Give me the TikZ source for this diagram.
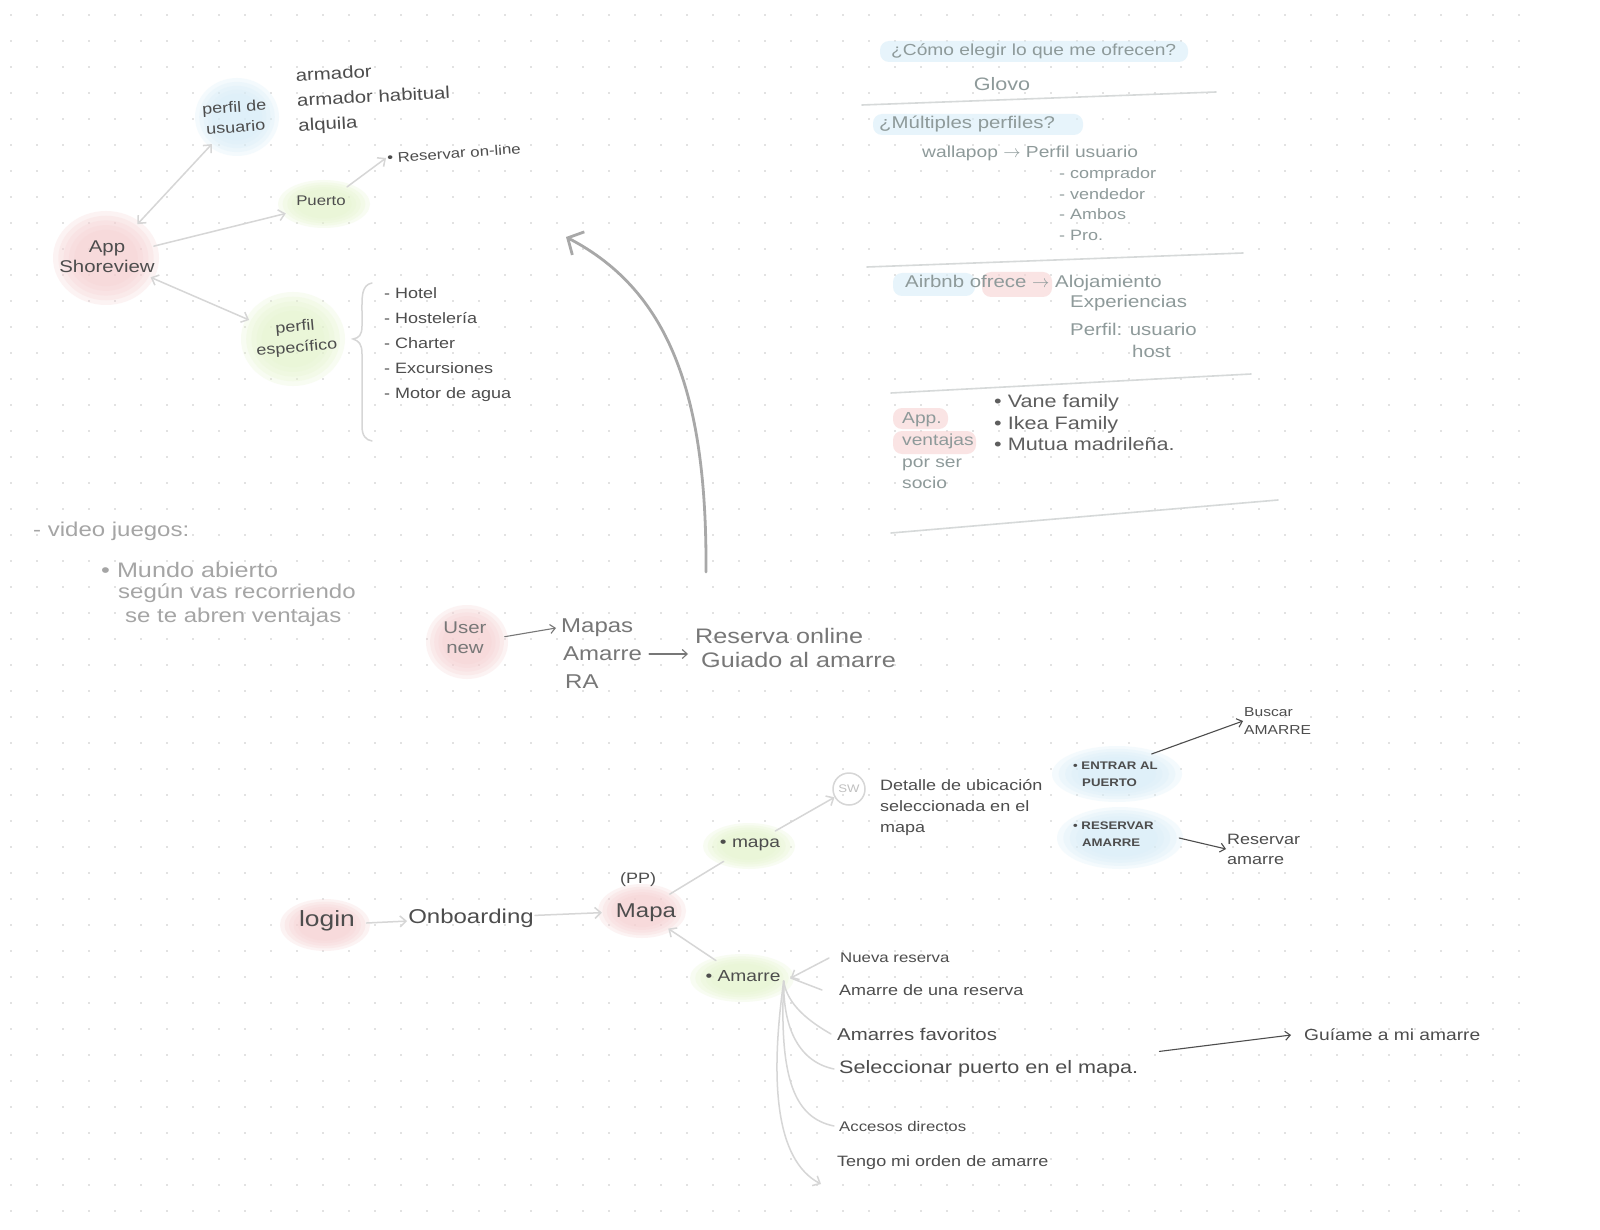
\documentclass[tikz,border=0pt]{standalone}
\usepackage{fontspec}
\setmainfont{Liberation Sans}[FakeStretch=1.2]
\usetikzlibrary{arrows.meta,shapes.geometric}
\definecolor{ink}{HTML}{4D4D4D}
\definecolor{inkb}{HTML}{5E5E5E}
\definecolor{midg}{HTML}{777777}
\definecolor{soft}{HTML}{8E9A9A}
\definecolor{faint}{HTML}{A5A5A5}
\definecolor{pinkc}{HTML}{F7D2D3}
\definecolor{bluec}{HTML}{D8EEF9}
\definecolor{greenc}{HTML}{E6F5CE}
\definecolor{linec}{HTML}{D6D6D6}
\definecolor{dotc}{HTML}{C6C6C6}
\definecolor{bigarr}{HTML}{A8A8A8}
\definecolor{sepc}{HTML}{D6D9D9}
\pgfdeclarelayer{gridlayer}
\pgfdeclarelayer{bloblayer}
\pgfsetlayers{gridlayer,bloblayer,main}
\newcommand\fsz[2]{\fontsize{#1}{#2}\selectfont}
% soft blob: colour, x, y, x radius, y radius
\newcommand\softblob[5]{%
  \foreach \sbk in {1.0,0.9,0.8,0.7,0.6}{%
    \fill[#1,opacity=0.26] (#2,#3) ellipse [x radius=\sbk*#4pt, y radius=\sbk*#5pt];}}
\tikzset{
  txt/.style={inner sep=1pt, align=left, text=ink},
  blob/.style={ellipse, draw=none, inner sep=0pt},
  hilite/.style={fill=#1, opacity=0.6, rounded corners=9pt},
  conn/.style={draw=linec, line width=1.5pt, line cap=round},
  tipE/.style={-{Straight Barb[length=6pt,width=11pt]}},
  tipB/.style={{Straight Barb[length=6pt,width=11pt]}-{Straight Barb[length=6pt,width=11pt]}},
  darkarr/.style={draw=ink, line width=1.1pt, line cap=round, -{Straight Barb[length=5pt,width=9pt]}},
  softarr/.style={draw=midg, line width=1.1pt, line cap=round, -{Straight Barb[length=5pt,width=9pt]}},
  sepline/.style={draw=sepc, line width=1.6pt, line cap=round},
  bigarrow/.style={draw=bigarr, line width=2.8pt, line cap=round, -{Straight Barb[length=12pt,width=26pt]}},
}
\begin{document}
\begin{tikzpicture}[x=1pt,y=-1pt]
\useasboundingbox (0,0) rectangle (1600,1230);
\begin{pgfonlayer}{gridlayer}
  \fill[white] (0,0) rectangle (1600,1230);
  \foreach \i in {0,...,58}{\foreach \j in {0,...,46}{\fill[dotc] (11+26*\i,15+26*\j) circle[radius=0.9pt];}}
\end{pgfonlayer}

% anchoring shapes of the coloured blobs
\node[blob, minimum width=99pt, minimum height=87pt] (appb) at (106,258) {};
\node[blob, minimum width=77pt, minimum height=71pt] (usub) at (237,117) {};
\node[blob, minimum width=86pt, minimum height=40pt] (ptob) at (324,204) {};
\node[blob, minimum width=97pt, minimum height=87pt] (espb) at (293,339) {};
\node[blob, minimum width=76pt, minimum height=66pt] (usrb) at (467,642) {};
\node[blob, minimum width=83pt, minimum height=44pt] (lgb) at (325,925) {};
\node[blob, minimum width=80pt, minimum height=46pt] (mpb) at (642,911) {};
\node[blob, minimum width=84pt, minimum height=38pt] (m2b) at (749,846) {};
\node[blob, minimum width=97pt, minimum height=41pt] (amb) at (742,978) {};
\node[blob, minimum width=123pt, minimum height=48pt] (enb) at (1117,774) {};
\node[blob, minimum width=118pt, minimum height=54pt] (reb) at (1120,838) {};

\begin{pgfonlayer}{bloblayer}
  \softblob{pinkc}{106}{258}{53}{47}
  \softblob{bluec}{237}{117}{42}{39}
  \softblob{greenc}{324}{204}{46}{24}
  \softblob{greenc}{293}{339}{52}{47}
  \softblob{pinkc}{467}{642}{41}{37}
  \softblob{pinkc}{325}{925}{45}{26}
  \softblob{pinkc}{642}{911}{44}{27}
  \softblob{greenc}{749}{846}{46}{23}
  \softblob{greenc}{742}{978}{52}{24}
  \softblob{bluec}{1117}{774}{65}{28}
  \softblob{bluec}{1120}{838}{63}{31}
  % highlights right column
  \fill[hilite=bluec] (880,41) rectangle (1188,62);
  \fill[hilite=bluec] (873,114) rectangle (1083,135);
  \fill[hilite=bluec] (893,273) rectangle (975,296);
  \fill[hilite=pinkc] (982,272) rectangle (1052,297);
  \fill[hilite=pinkc] (893,408) rectangle (948,429);
  \fill[hilite=pinkc] (893,431) rectangle (976,454);
\end{pgfonlayer}

% ---------- top left cluster ----------
\node[txt, font=\fsz{17}{20}, align=center] (app) at (107,257) {App\\Shoreview};
\node[txt, font=\fsz{15}{20}, align=center, rotate=4] (usu) at (235,117) {perfil de\\usuario};
\node[txt, font=\fsz{17}{25}, anchor=west, rotate=3] (roles) at (296,102) {armador\\armador habitual\\alquila};
\node[txt, font=\fsz{14}{17}] (pto) at (321,201) {Puerto};
\node[txt, font=\fsz{14}{17}, anchor=west, rotate=4] (resv) at (386,158) {• Reservar on-line};
\node[txt, font=\fsz{15}{21}, align=center, rotate=5] (esp) at (296,338) {perfil\\específico};
\node[txt, font=\fsz{15}{25}, anchor=west] (tipos) at (383,345) {- Hotel\\- Hostelería\\- Charter\\- Excursiones\\- Motor de agua};

\draw[conn, tipB] (appb) -- (usub);
\draw[conn, tipE] (appb) -- (ptob);
\draw[conn, tipB] (appb) -- (espb);
\draw[conn, tipE] (ptob) -- (resv.west);
\draw[conn] (372,283) .. controls (361,285) and (362,298) .. (362,312) -- (362,326)
  .. controls (362,335) and (359,338) .. (353,339) .. controls (359,341) and (362,344) .. (362,354)
  -- (362,426) .. controls (362,436) and (366,440) .. (372,441);

% big arrow
\coordinate (bstart) at (706,572);
\coordinate (bend) at (566,237);
\draw[bigarrow] (bstart) .. controls (707,400) and (672,292) .. (bend);

% ---------- right column ----------
\node[txt, text=soft, font=\fsz{16}{19}, anchor=west] (q1) at (890,51) {¿Cómo elegir lo que me ofrecen?};
\node[txt, text=soft, font=\fsz{18}{21}] (glovo) at (1002,84) {Glovo};
\node[txt, text=soft, font=\fsz{17}{20}, anchor=west] (q2) at (878,124) {¿Múltiples perfiles?};
\node[txt, text=soft, font=\fsz{16}{19}, anchor=west] (wal) at (921,153) {wallapop \(\rightarrow\) Perfil usuario};
\node[txt, text=soft, font=\fsz{15}{20.7}, anchor=west] (perf) at (1058,204) {- comprador\\- vendedor\\- Ambos\\- Pro.};
\node[txt, text=soft, font=\fsz{17}{20}, anchor=west] (air) at (904,283) {Airbnb ofrece \(\rightarrow\) Alojamiento};
\node[txt, text=soft, font=\fsz{17}{20}, anchor=west] (expe) at (1069,303) {Experiencias};
\node[txt, text=soft, font=\fsz{17}{20}, anchor=west] (pfl) at (1069,329) {Perfil: usuario};
\node[txt, text=soft, font=\fsz{17}{20}, anchor=west] (host) at (1131,351) {host};
\node[txt, text=soft, font=\fsz{16}{21.7}, anchor=west] (appv) at (901,451) {App.\\ventajas\\por ser\\socio};
\node[txt, text=inkb, font=\fsz{18}{21.5}, anchor=west] (bul) at (993,423) {• Vane family\\• Ikea Family\\• Mutua madrileña.};
\draw[sepline] (862,105) -- (1216,92);
\draw[sepline] (867,267) -- (1243,253);
\draw[sepline] (891,393) -- (1251,374);
\draw[sepline] (891,533) -- (1278,500);

% ---------- left middle ----------
\node[txt, text=faint, font=\fsz{20}{23}, anchor=west] (vj) at (32,531) {- video juegos:};
\node[txt, text=faint, font=\fsz{21}{24}, anchor=west] (mun) at (100,570) {• Mundo abierto};
\node[txt, text=faint, font=\fsz{20}{23}, anchor=west] (seg) at (117,593) {según vas recorriendo};
\node[txt, text=faint, font=\fsz{20}{23}, anchor=west] (abr) at (124,617) {se te abren ventajas};

% ---------- user new ----------
\node[txt, text=midg, font=\fsz{17}{20}, align=center] (usr) at (465,638) {User\\new};
\node[txt, text=midg, font=\fsz{20}{23}, anchor=west] (mapas) at (560,628) {Mapas};
\node[txt, text=midg, font=\fsz{20}{23}, anchor=west] (amu) at (562,654) {Amarre};
\node[txt, text=midg, font=\fsz{20}{23}, anchor=west] (ra) at (564,682) {RA};
\node[txt, text=midg, font=\fsz{21}{24}, anchor=west] (ro) at (694,636) {Reserva online};
\node[txt, text=midg, font=\fsz{21}{24}, anchor=west] (ga) at (700,660) {Guiado al amarre};
\draw[softarr] (usrb.8) -- ([xshift=-4pt]mapas.west);
\draw[softarr] ([xshift=6pt]amu.east) -- ([xshift=-6pt]amu.east -| ro.west);

% ---------- bottom flow ----------
\node[txt, font=\fsz{22}{25}] (login) at (327,921) {login};
\node[txt, font=\fsz{20}{23}] (onb) at (471,918) {Onboarding};
\node[txt, font=\fsz{15}{18}] (pp) at (638,880) {(PP)};
\node[txt, font=\fsz{20}{23}] (mapa) at (646,913) {Mapa};
\node[txt, font=\fsz{16}{19}] (m2) at (750,845) {• mapa};
\node[circle, draw=linec, line width=1.5pt, minimum size=32pt, inner sep=0pt, text=faint!70, font=\fsz{11}{13}] (sw) at (849,789) {SW};
\node[txt, font=\fsz{15}{21}, anchor=west] (det) at (879,808) {Detalle de ubicación\\seleccionada en el\\mapa};
\node[txt, font=\bfseries\fsz{11}{17}, anchor=west] (ent) at (1072,774) {• ENTRAR AL\\\hspace*{9pt}PUERTO};
\node[txt, font=\bfseries\fsz{11}{17}, anchor=west] (resr) at (1072,834) {• RESERVAR\\\hspace*{9pt}AMARRE};
\node[txt, font=\fsz{13}{18}, anchor=west] (bus) at (1243,721) {Buscar\\AMARRE};
\node[txt, font=\fsz{15}{20}, anchor=west] (resam) at (1226,849) {Reservar\\amarre};
\node[txt, font=\fsz{16}{19}] (am) at (743,976) {• Amarre};

\draw[conn, tipE] (lgb) -- (onb);
\draw[conn, tipE] (onb) -- (mpb);
\draw[conn] (mpb) -- (m2b);
\draw[conn, tipE] (amb) -- (mpb);
\draw[conn, tipE] (m2b) -- (sw);
\draw[darkarr] (enb.30) -- (bus.west);
\draw[darkarr] (reb.east) -- (resam.west);

% amarre fan
\node[txt, font=\fsz{14}{17}, anchor=west] (nue) at (839,958) {Nueva reserva};
\node[txt, font=\fsz{15}{18}, anchor=west] (amd) at (838,990) {Amarre de una reserva};
\node[txt, font=\fsz{17}{20}, anchor=west] (fav) at (836,1034) {Amarres favoritos};
\node[txt, font=\fsz{18}{21}, anchor=west] (sel) at (838,1069) {Seleccionar puerto en el mapa.};
\node[txt, font=\fsz{14}{17}, anchor=west] (acc) at (838,1126) {Accesos directos};
\node[txt, font=\fsz{15}{18}, anchor=west] (ten) at (836,1163) {Tengo mi orden de amarre};
\node[txt, font=\fsz{16}{19}, anchor=west] (gui) at (1303,1035) {Guíame a mi amarre};
\coordinate (hub) at ([xshift=-7pt,yshift=-3pt]amb.east);
\coordinate (tarr) at (821,1184);
\draw[conn, tipE] ([xshift=-10pt]nue.west) -- (amb.east);
\draw[conn] ([xshift=-16pt]amd.west) -- (amb.east);
\draw[conn] (hub) .. controls (787,1005) and (810,1022) .. ([xshift=-5pt]fav.west);
\draw[conn] (hub) .. controls (783,1030) and (800,1062) .. ([xshift=-4pt]sel.west);
\draw[conn] (hub) .. controls (779,1080) and (795,1118) .. ([xshift=-4pt]acc.west);
\draw[conn, tipE] (hub) .. controls (770,1080) and (775,1160) .. (tarr);
\draw[darkarr] ([xshift=20pt,yshift=8pt]sel.north east) -- ([xshift=-12pt]gui.west);
\end{tikzpicture}
\end{document}
